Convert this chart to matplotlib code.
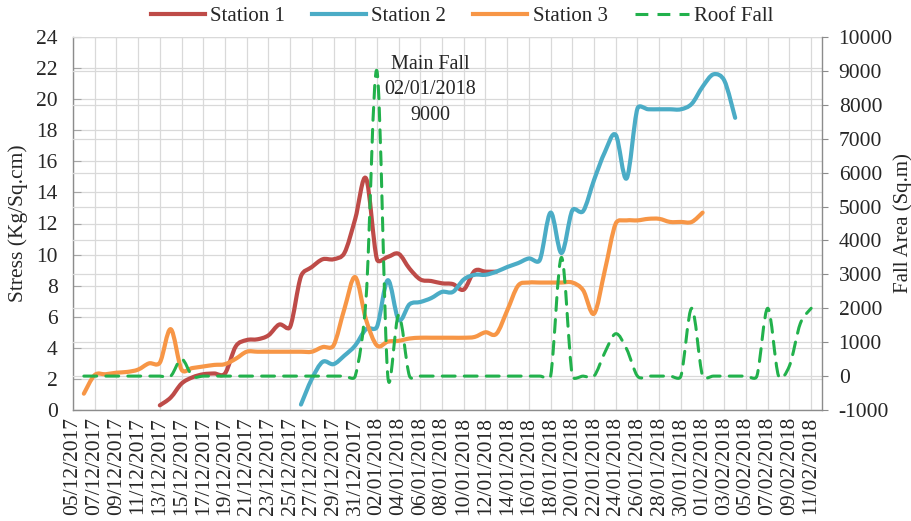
import numpy as np
import pandas as pd
import matplotlib
matplotlib.use('Agg')
import matplotlib.pyplot as plt
import matplotlib.dates as mdates
from matplotlib.path import Path
from matplotlib.patches import PathPatch
from matplotlib.lines import Line2D
from matplotlib.ticker import FixedLocator, MultipleLocator

# daily readings, each series starts on its own date
station1_start = '2017-12-13'
station1 = [0.3, 0.8, 1.7, 2.1, 2.3, 2.35, 2.35, 4.1, 4.5, 4.55, 4.8, 5.5, 5.35,
            8.6, 9.2, 9.7, 9.7, 10.1, 12.3, 14.9, 9.7, 9.85, 10.05, 9.1, 8.4,
            8.3, 8.15, 8.1, 7.75, 8.95, 8.9, 8.9]

station2_start = '2017-12-26'
station2 = [0.35, 2.0, 3.1, 2.95, 3.5, 4.15, 5.2, 5.35, 8.35, 5.8, 6.8, 6.95,
            7.2, 7.6, 7.6, 8.4, 8.7, 8.7, 8.9, 9.2, 9.45, 9.75, 9.65, 12.7,
            10.1, 12.85, 12.8, 14.8, 16.6, 17.7, 14.9, 19.4, 19.35, 19.35,
            19.35, 19.35, 19.7, 20.8, 21.6, 21.2, 18.8]

station3_start = '2017-12-06'
station3 = [1.05, 2.25, 2.3, 2.4, 2.45, 2.6, 3.0, 3.05, 5.2, 2.6, 2.7, 2.8, 2.9,
            2.95, 3.3, 3.75, 3.75, 3.75, 3.75, 3.75, 3.75, 3.75, 4.05, 4.15,
            6.5, 8.55, 5.8, 4.15, 4.4, 4.45, 4.6, 4.65, 4.65, 4.65, 4.65, 4.65,
            4.7, 5.0, 4.9, 6.4, 8.0, 8.2, 8.2, 8.2, 8.2, 8.2, 7.7, 6.2, 9.0,
            12.0, 12.2, 12.2, 12.3, 12.3, 12.1, 12.1, 12.1, 12.7]

roof_start = '2017-12-06'
roof_fall = [0, 0, 0, 0, 0, 0, 0, 0, 0, 500, 0, 0, 0, 0, 0, 0, 0, 0, 0, 0, 0,
             0, 0, 0, 0, 0, 2300, 9000, 0, 1800, 0, 0, 0, 0, 0, 0, 0, 0, 0, 0,
             0, 0, 0, 0, 3500, 0, 0, 0, 700, 1250, 800, 0, 0, 0, 0, 0, 2000,
             0, 0, 0, 0, 0, 0, 2000, 0, 300, 1550, 2000]

axis_start, axis_end = '2017-12-05', '2018-02-12'
label_dates = pd.date_range('2017-12-05', '2018-02-11', freq='2D')

c1, c2, c3, cg = '#BE4B48', '#4BACC6', '#F79646', '#22B14C'
grid_c = '#D9D9D9'
txt_c = '#262626'
plt.rcParams['font.family'] = ['Liberation Serif', 'DejaVu Serif']
plt.rcParams['axes.unicode_minus'] = False


def smooth_path(host, start, values):
    # Excel style smoothed line, worked out in screen space so the
    # handles never exceed half a segment, then mapped back to data
    x = mdates.date2num(pd.date_range(start, periods=len(values), freq='D'))
    data = np.column_stack([x, np.asarray(values, float)])
    pts = host.transData.transform(data)
    ext = np.vstack([pts[0], pts, pts[-1]])
    verts, codes = [pts[0]], [Path.MOVETO]
    for i in range(len(pts) - 1):
        p0, p1, p2, p3 = ext[i], ext[i + 1], ext[i + 2], ext[i + 3]
        d12 = np.hypot(*(p2 - p1))
        d02 = np.hypot(*(p2 - p0))
        d13 = np.hypot(*(p3 - p1))
        f = min(1 / 6, d12 / (2 * d02)) if d02 > 0 else 1 / 6
        g = min(1 / 6, d12 / (2 * d13)) if d13 > 0 else 1 / 6
        verts += [p1 + (p2 - p0) * f, p2 - (p3 - p1) * g, p2]
        codes += [Path.CURVE4] * 3
    return Path(host.transData.inverted().transform(np.array(verts)), codes)


fig = plt.figure(figsize=(9.11, 5.21), dpi=100)
ax = fig.add_axes([73 / 911, 1 - 410 / 521, (822 - 73) / 911, (410 - 37) / 521])
ax2 = ax.twinx()

ax.set_xlim(mdates.date2num(pd.Timestamp(axis_start)),
            mdates.date2num(pd.Timestamp(axis_end)))
ax.set_ylim(0, 24)
ax2.set_ylim(-1000, 10000)
ax.yaxis.set_major_locator(MultipleLocator(2))
ax2.yaxis.set_major_locator(MultipleLocator(1000))
ax.xaxis.set_major_locator(FixedLocator(mdates.date2num(label_dates)))
ax.xaxis.set_major_formatter(mdates.DateFormatter('%d/%m/%Y'))

ax.grid(True, color=grid_c, linewidth=0.9)
ax2.grid(True, axis='y', color=grid_c, linewidth=0.9)

dash = (0, (4.2, 3.0))
series = [(station1_start, station1, c1, '-', ax, 'Station 1'),
          (station2_start, station2, c2, '-', ax, 'Station 2'),
          (station3_start, station3, c3, '-', ax, 'Station 3'),
          (roof_start, roof_fall, cg, dash, ax2, 'Roof Fall')]
handles = []
for k, (start, vals, col, ls, host, name) in enumerate(series):
    lw = 2.2 if host is ax2 else 3.0
    patch = PathPatch(smooth_path(host, start, vals), fill=False,
                      edgecolor=col, linewidth=lw, linestyle=ls,
                      capstyle='round', joinstyle='round',
                      transform=host.transData, zorder=3 + k)
    ax2.add_patch(patch)
    handles.append(Line2D([], [], color=col, linewidth=lw, linestyle=ls,
                          label=name))

# main fall note, anchored to the peak of the roof fall series
peak = int(np.argmax(roof_fall))
peak_day = pd.Timestamp(roof_start) + pd.Timedelta(days=peak)
ax2.annotate('Main Fall\n{}\n{}'.format(peak_day.strftime('%d/%m/%Y'),
                                        roof_fall[peak]),
             xy=(mdates.date2num(peak_day), roof_fall[peak]),
             xytext=(53, -19), textcoords='offset pixels', ha='center',
             va='center', fontsize=14.5, color=txt_c, linespacing=1.45,
             zorder=10)

ax.spines['top'].set_visible(False)
ax.spines['right'].set_visible(False)
for side in ['top', 'left', 'bottom']:
    ax2.spines[side].set_visible(False)
for sp in [ax.spines['left'], ax.spines['bottom'], ax2.spines['right']]:
    sp.set_color('#8C8C8C')
    sp.set_linewidth(1.0)

ax.tick_params(axis='y', direction='in', length=6, color='#A6A6A6', pad=11,
               labelsize=15.5, labelcolor=txt_c)
ax.tick_params(axis='x', length=0, pad=5, labelsize=15.5, labelcolor=txt_c,
               labelrotation=90)
ax2.tick_params(axis='y', direction='out', length=4, color='#8C8C8C', pad=8,
                labelsize=15.5, labelcolor=txt_c)

ax.set_ylabel('Stress (Kg/Sq.cm)', fontsize=15.5, color=txt_c, labelpad=6)
ax2.set_ylabel('Fall Area (Sq.m)', fontsize=15, color=txt_c, labelpad=0,
               rotation=90)

fig.legend(handles=handles, loc='center', bbox_to_anchor=(462 / 911, 1 - 16 / 521),
           ncol=4, frameon=False, fontsize=15, handlelength=2.6,
           handletextpad=0.25, columnspacing=1.3, labelcolor=txt_c)

fig.savefig('out.png', dpi=100)
